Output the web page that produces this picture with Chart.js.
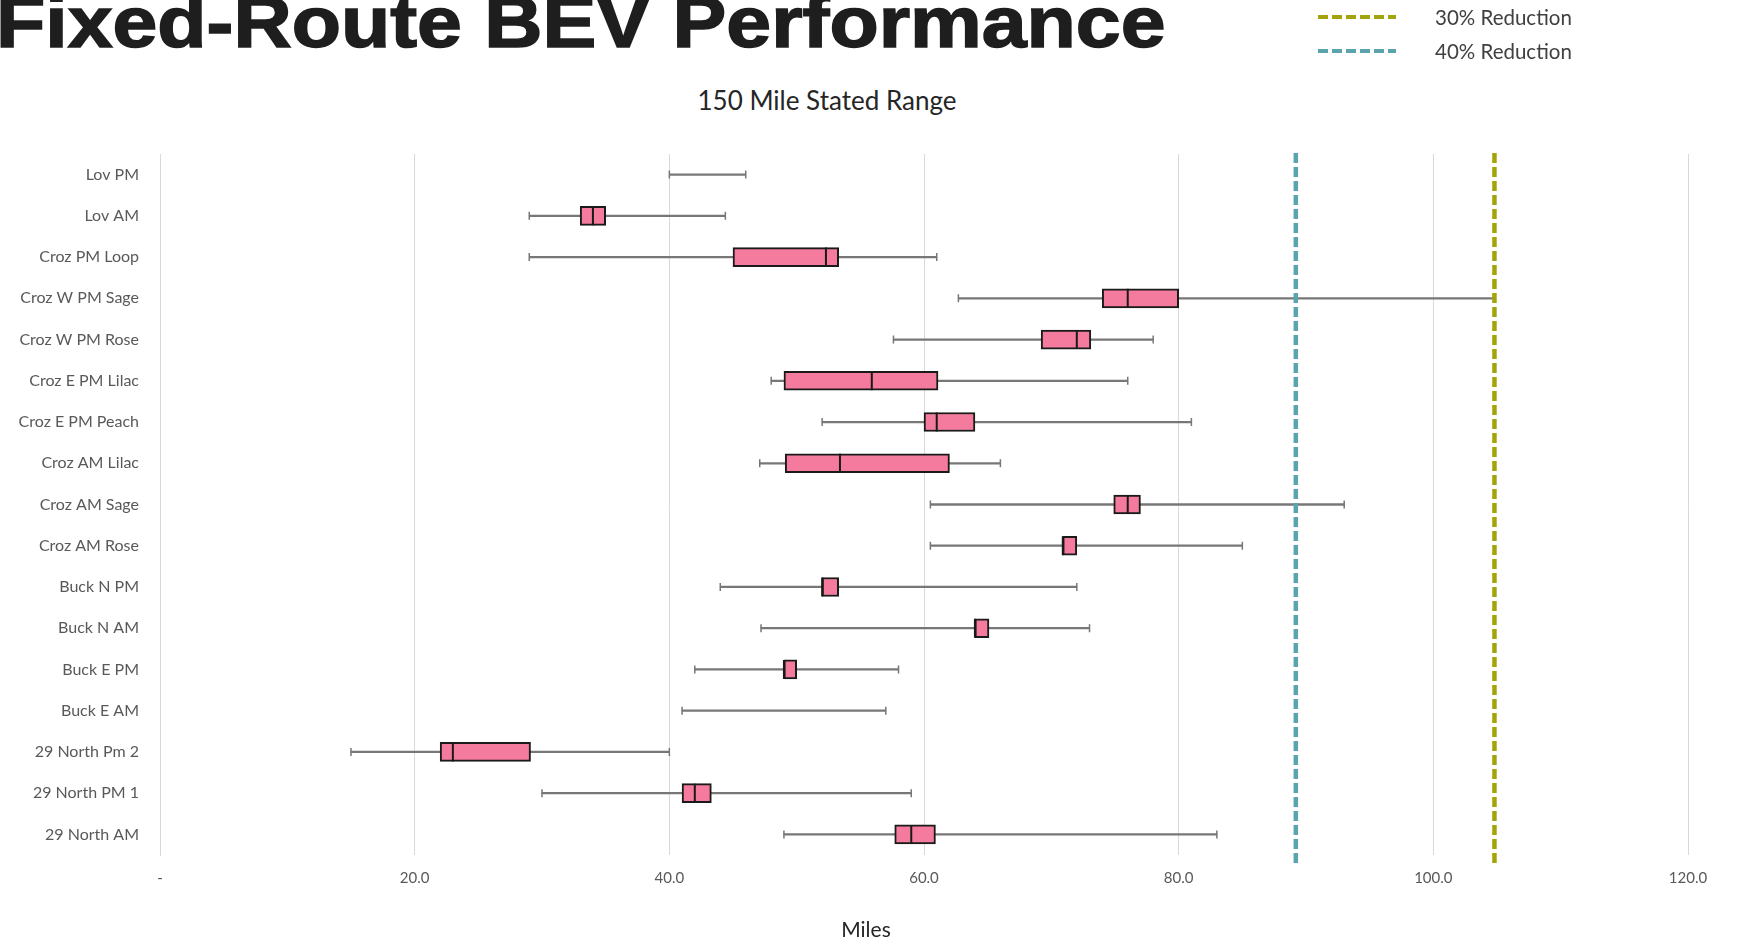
<!DOCTYPE html>
<html>
<head>
<meta charset="utf-8">
<script src="https://cdn.jsdelivr.net/npm/chart.js@4.4.0/dist/chart.umd.min.js"></script>
<style>
  html, body { margin: 0; padding: 0; background: #fff; }
  #wrap { position: relative; width: 1739px; height: 941px; overflow: hidden; font-family: Lato, sans-serif; }
  #chart { position: absolute; left: 0; top: 0; }
  .title {
    position: absolute; left: -4px; top: -14px;
    font: bold 72px 'Liberation Sans', Arial, sans-serif; line-height: 72px;
    color: #1e1e1e; white-space: nowrap;
    transform: scaleX(1.12); transform-origin: 0 0;
    -webkit-text-stroke: 1.5px #1e1e1e;
  }
  .sub { position: absolute; left: 827px; top: 85px; transform: translateX(-50%); font-size: 26px; line-height: 30px; color: #262626; white-space: nowrap; }
  .xtitle { position: absolute; left: 866px; top: 917px; transform: translateX(-50%); font-size: 21px; line-height: 24px; color: #262626; }
  #legend { position: absolute; left: 1318px; top: 0; }
  .item { position: absolute; left: 0; white-space: nowrap; font-size: 20.5px; line-height: 22px; color: #404040; }
  .item .swatch { position: absolute; left: 0; top: 9px; width: 78px; height: 4px; }
  .item span { position: absolute; left: 117px; top: 0; }
</style>
</head>
<body>
<div id="wrap">
  <div class="title">Fixed-Route BEV Performance</div>
  <div class="sub">150 Mile Stated Range</div>
  <canvas id="chart" width="1739" height="941"></canvas>
  <div id="legend"></div>
  <div class="xtitle">Miles</div>
</div>
<script>
'use strict';

const categories = ['Lov PM', 'Lov AM', 'Croz PM Loop', 'Croz W PM Sage', 'Croz W PM Rose',
  'Croz E PM Lilac', 'Croz E PM Peach', 'Croz AM Lilac', 'Croz AM Sage', 'Croz AM Rose',
  'Buck N PM', 'Buck N AM', 'Buck E PM', 'Buck E AM', '29 North Pm 2', '29 North PM 1', '29 North AM'];

// box plot values (miles)
const mins    = [40.0, 29.0, 29.0, 62.7, 57.6, 48.0, 52.0, 47.1, 60.5, 60.5, 44.0, 47.2, 42.0, 41.0, 15.0, 30.0, 49.0];
const q1s     = [null, 33.0, 45.0, 74.0, 69.2, 49.0, 60.0, 49.1, 74.9, 70.9, 52.0, 64.0, 49.0, null, 22.0, 41.0, 57.7];
const medians = [null, 34.0, 52.3, 76.0, 72.0, 55.9, 61.0, 53.4, 76.0, 70.9, 52.0, 64.0, 49.0, null, 23.0, 42.0, 59.0];
const q3s     = [null, 35.0, 53.3, 80.0, 73.1, 61.1, 64.0, 62.0, 77.0, 72.0, 53.3, 65.1, 50.0, null, 29.1, 43.3, 60.9];
const maxs    = [46.0, 44.4, 61.0, 104.8, 78.0, 76.0, 81.0, 66.0, 93.0, 85.0, 72.0, 73.0, 58.0, 57.0, 40.0, 59.0, 83.0];

// reference lines
const refNames  = ['30% Reduction', '40% Reduction'];
const refValues = [104.8, 89.2];
const refColors = ['#a3a40c', '#5aa5ad'];

const tickLabels = ['-', '20.0', '40.0', '60.0', '80.0', '100.0', '120.0'];

const pink = '#f47b9e';
const dark = '#1a1a1a';
const whiskerGray = '#777777';

Chart.defaults.font.family = 'Lato';

const whiskerData = categories.map((c, i) => [mins[i], maxs[i]]);
const boxData = categories.map((c, i) => (q1s[i] === null ? null : [q1s[i], q3s[i]]));
const capData = [];
categories.forEach((c, i) => {
  capData.push({ x: mins[i], y: c });
  capData.push({ x: maxs[i], y: c });
});
const medianData = [];
categories.forEach((c, i) => {
  if (medians[i] !== null) medianData.push({ x: medians[i], y: c });
});

const datasets = [
  {
    type: 'bar', label: 'range', indexAxis: 'y', data: whiskerData,
    backgroundColor: whiskerGray, barThickness: 1.6, grouped: false, order: 6
  },
  {
    type: 'scatter', label: 'caps', data: capData,
    pointStyle: 'line', pointRotation: 90, pointRadius: 4,
    pointBorderColor: whiskerGray, pointBorderWidth: 1.5, order: 5
  },
  {
    type: 'bar', label: 'box', indexAxis: 'y', data: boxData,
    backgroundColor: pink, borderColor: dark, borderWidth: 2, borderSkipped: false,
    barThickness: 19, grouped: false, order: 2
  },
  {
    type: 'scatter', label: 'median', data: medianData,
    pointStyle: 'line', pointRotation: 90, pointRadius: 9.5,
    pointBorderColor: dark, pointBorderWidth: 2, order: 1
  }
];

refValues.forEach((v, i) => {
  datasets.push({
    type: 'line', label: refNames[i], yAxisID: 'y2',
    data: [{ x: v, y: -0.0114 }, { x: v, y: 1.0057 }],
    borderColor: refColors[i], borderWidth: 4.5, borderDash: [10, 4],
    pointRadius: 0, clip: false, order: 3
  });
});

new Chart(document.getElementById('chart'), {
  data: { labels: categories, datasets: datasets },
  options: {
    responsive: false,
    animation: false,
    layout: { padding: { left: 0, top: 154, right: 51, bottom: 55 } },
    plugins: { legend: { display: false }, tooltip: { enabled: false } },
    scales: {
      x: {
        type: 'linear', min: 0, max: 120,
        ticks: {
          stepSize: 20, padding: 14, color: '#595959', font: { size: 15 },
          callback: (v, i) => tickLabels[i]
        },
        grid: { color: '#d9d9d9', drawTicks: false },
        border: { display: false },
        afterFit: (s) => { s.height = 31; }
      },
      y: {
        type: 'category',
        grid: { display: false },
        border: { display: true, color: '#d9d9d9' },
        ticks: { padding: 13, color: '#595959', font: { size: 16 } },
        afterFit: (s) => { s.width = 160; }
      },
      y2: { type: 'linear', display: false, min: 0, max: 1 }
    }
  }
});

// legend, stacked on the right as in the slide
const legend = document.getElementById('legend');
refNames.forEach((name, i) => {
  const item = document.createElement('div');
  item.className = 'item';
  item.style.top = (6 + i * 34) + 'px';
  const sw = document.createElement('div');
  sw.className = 'swatch';
  sw.style.background = 'repeating-linear-gradient(90deg, ' + refColors[i] + ' 0 10px, transparent 10px 14px)';
  const label = document.createElement('span');
  label.textContent = name;
  item.appendChild(sw);
  item.appendChild(label);
  legend.appendChild(item);
});
</script>
</body>
</html>
